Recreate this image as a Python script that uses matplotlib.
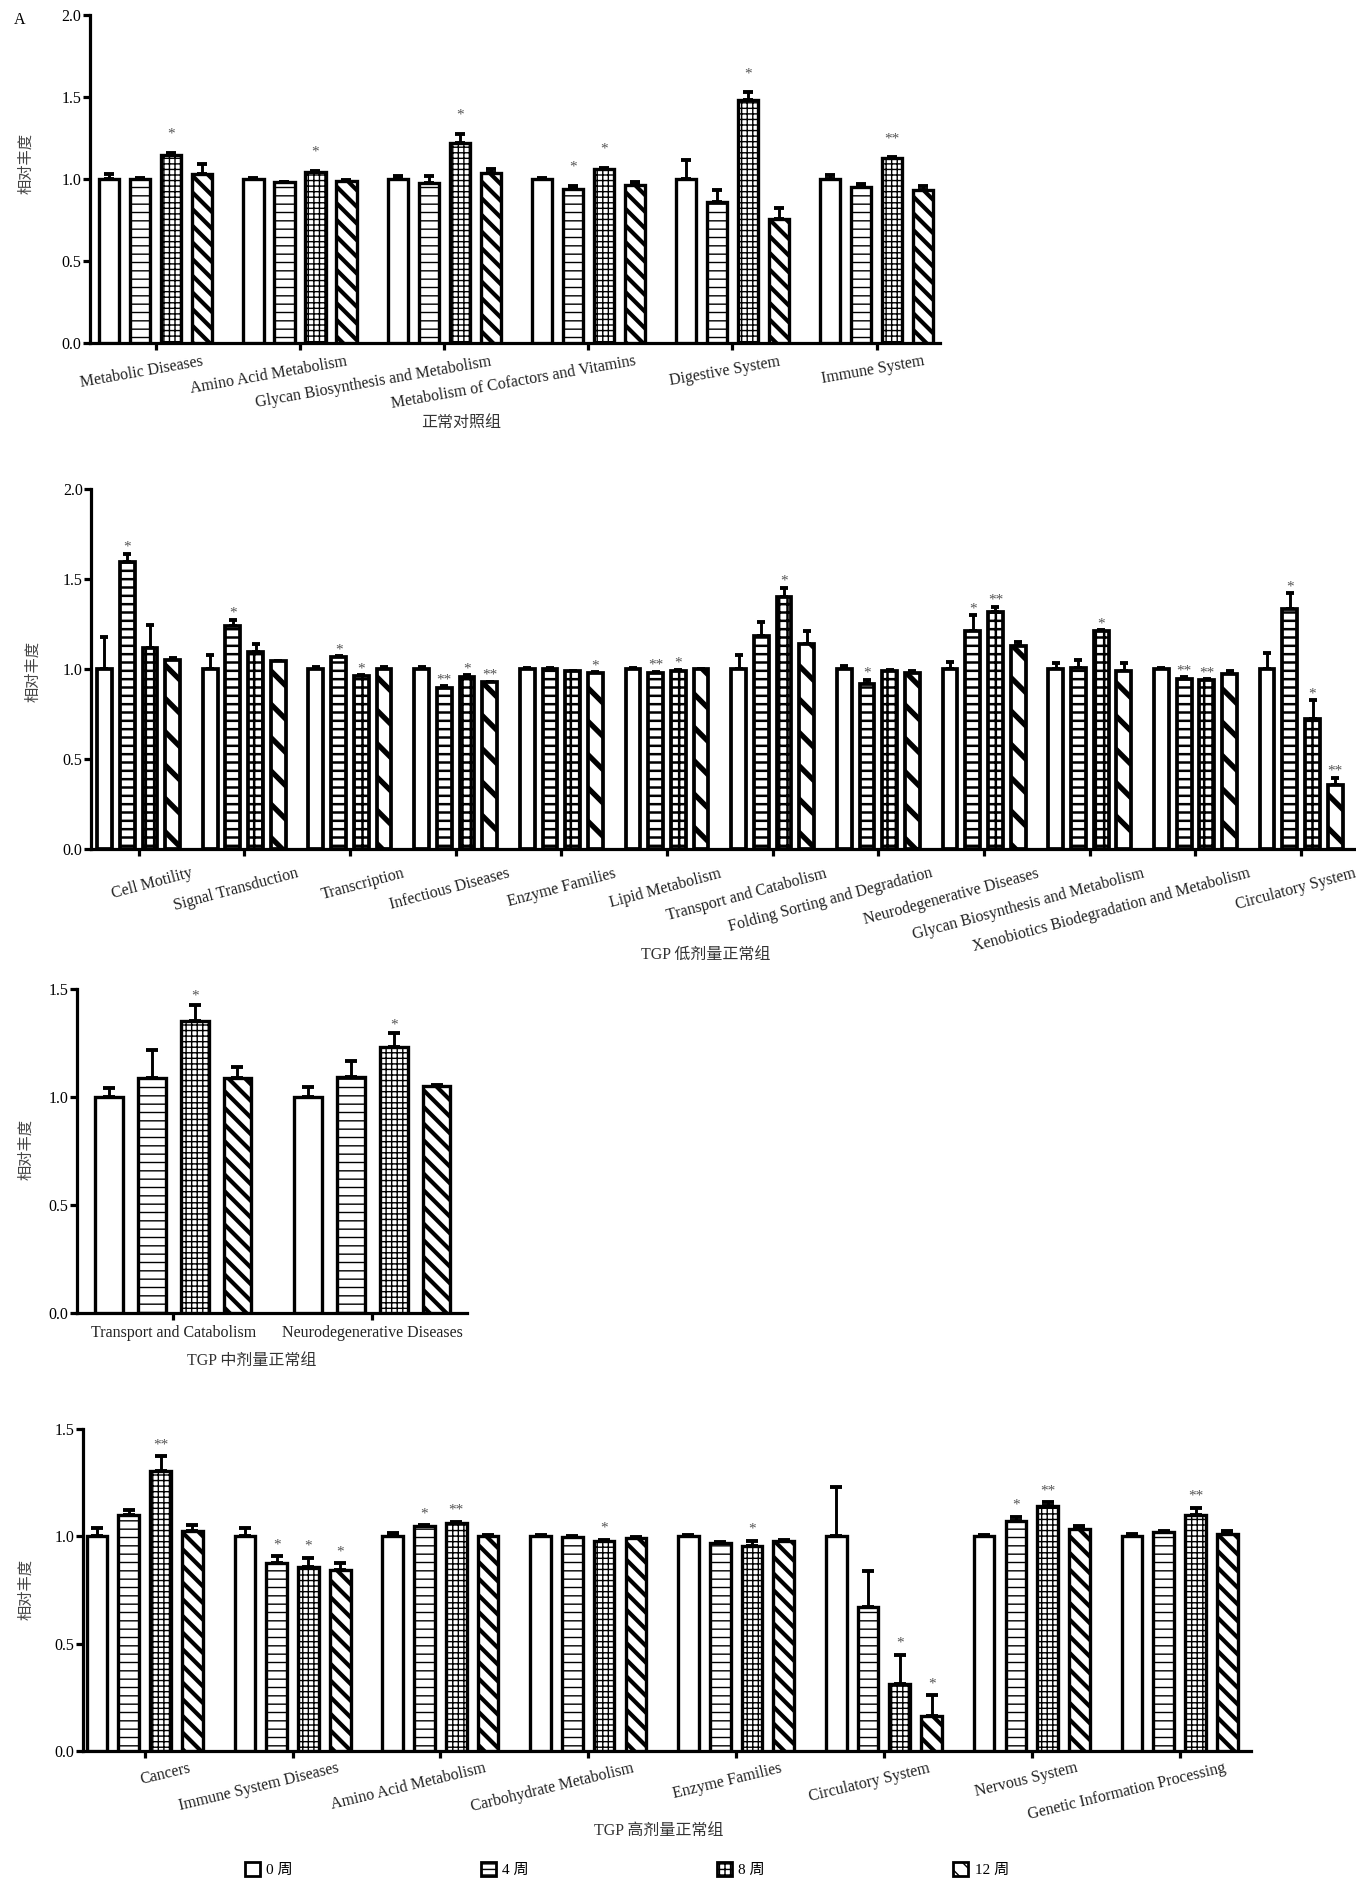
import numpy as np
import matplotlib
matplotlib.use('Agg')
import matplotlib.pyplot as plt
import matplotlib.patches as mpatches
from matplotlib.transforms import ScaledTranslation
from matplotlib.ticker import FormatStrFormatter

plt.rcParams['font.family'] = ['Liberation Serif', 'Noto Sans CJK SC', 'DejaVu Sans']

W, H = 1356, 1879
WEEKS = ['0 周', '4 周', '8 周', '12 周']

# ---- 正常对照组 ----
p1_cats = ['Metabolic Diseases', 'Amino Acid Metabolism', 'Glycan Biosynthesis and Metabolism',
           'Metabolism of Cofactors and Vitamins', 'Digestive System', 'Immune System']
p1_mean = [[1.00, 1.00, 1.15, 1.03],
           [1.00, 0.98, 1.045, 0.988],
           [1.00, 0.975, 1.223, 1.037],
           [1.00, 0.943, 1.06, 0.965],
           [1.00, 0.86, 1.48, 0.76],
           [1.00, 0.953, 1.128, 0.933]]
p1_err = [[0.03, 0.005, 0.012, 0.06],
          [0.008, 0.005, 0.006, 0.007],
          [0.018, 0.045, 0.055, 0.026],
          [0.006, 0.017, 0.008, 0.019],
          [0.114, 0.073, 0.05, 0.066],
          [0.028, 0.017, 0.004, 0.024]]
p1_sig = [['', '', '*', ''],
          ['', '', '*', ''],
          ['', '', '*', ''],
          ['', '*', '*', ''],
          ['', '', '*', ''],
          ['', '', '**', '']]

# ---- TGP 低剂量正常组 ----
p2_cats = ['Cell Motility', 'Signal Transduction', 'Transcription', 'Infectious Diseases',
           'Enzyme Families', 'Lipid Metabolism', 'Transport and Catabolism',
           'Folding Sorting and Degradation', 'Neurodegenerative Diseases',
           'Glycan Biosynthesis and Metabolism', 'Xenobiotics Biodegradation and Metabolism',
           'Circulatory System']
p2_mean = [[1.00, 1.596, 1.12, 1.052],
           [1.00, 1.24, 1.096, 1.043],
           [1.00, 1.065, 0.96, 1.00],
           [1.00, 0.896, 0.955, 0.926],
           [1.00, 1.00, 0.99, 0.98],
           [1.00, 0.978, 0.99, 1.00],
           [1.00, 1.185, 1.40, 1.14],
           [1.00, 0.92, 0.99, 0.978],
           [1.00, 1.213, 1.315, 1.13],
           [1.00, 1.005, 1.21, 0.99],
           [1.00, 0.944, 0.94, 0.974],
           [1.00, 1.333, 0.726, 0.356]]
p2_err = [[0.18, 0.044, 0.126, 0.01],
          [0.08, 0.034, 0.044, 0.004],
          [0.01, 0.006, 0.006, 0.01],
          [0.01, 0.008, 0.01, 0.004],
          [0.005, 0.004, 0.002, 0.003],
          [0.004, 0.007, 0.005, 0.002],
          [0.078, 0.075, 0.05, 0.07],
          [0.02, 0.02, 0.008, 0.009],
          [0.04, 0.085, 0.03, 0.02],
          [0.035, 0.045, 0.005, 0.045],
          [0.004, 0.01, 0.004, 0.013],
          [0.09, 0.088, 0.1, 0.04]]
p2_sig = [['', '*', '', ''],
          ['', '*', '', ''],
          ['', '*', '*', ''],
          ['', '**', '*', '**'],
          ['', '', '', '*'],
          ['', '**', '*', ''],
          ['', '', '*', ''],
          ['', '*', '', ''],
          ['', '*', '**', ''],
          ['', '', '*', ''],
          ['', '**', '**', ''],
          ['', '*', '*', '**']]

# ---- TGP 中剂量正常组 ----
p3_cats = ['Transport and Catabolism', 'Neurodegenerative Diseases']
p3_mean = [[1.00, 1.09, 1.35, 1.09],
           [1.00, 1.095, 1.23, 1.052]]
p3_err = [[0.04, 0.13, 0.076, 0.05],
          [0.045, 0.073, 0.066, 0.002]]
p3_sig = [['', '', '*', ''],
          ['', '', '*', '']]

# ---- TGP 高剂量正常组 ----
p4_cats = ['Cancers', 'Immune System Diseases', 'Amino Acid Metabolism', 'Carbohydrate Metabolism',
           'Enzyme Families', 'Circulatory System', 'Nervous System',
           'Genetic Information Processing']
p4_mean = [[1.00, 1.10, 1.305, 1.023],
           [1.00, 0.876, 0.857, 0.843],
           [1.00, 1.046, 1.063, 1.00],
           [1.00, 0.997, 0.977, 0.992],
           [1.00, 0.969, 0.953, 0.978],
           [1.00, 0.671, 0.31, 0.163],
           [1.00, 1.07, 1.14, 1.034],
           [1.00, 1.017, 1.10, 1.01]]
p4_err = [[0.04, 0.02, 0.067, 0.027],
          [0.037, 0.03, 0.042, 0.031],
          [0.013, 0.005, 0.004, 0.003],
          [0.005, 0.002, 0.006, 0.002],
          [0.004, 0.003, 0.025, 0.003],
          [0.228, 0.169, 0.137, 0.096],
          [0.006, 0.02, 0.018, 0.011],
          [0.008, 0.006, 0.033, 0.012]]
p4_sig = [['', '', '**', ''],
          ['', '*', '*', '*'],
          ['', '*', '**', ''],
          ['', '', '*', ''],
          ['', '', '*', ''],
          ['', '', '*', '*'],
          ['', '*', '**', ''],
          ['', '', '**', '']]

PITCH = 0.215
BAR_W = 0.14
FINE_HATCH = ['', '--', '+++', '\\\\']
COARSE_HATCH = ['', '--', '++', '\\']
FINE_LW = [1.0, 1.0, 1.0, 3.0]
COARSE_LW = [1.8, 1.8, 1.8, 3.8]


def px(v):
    # pixels -> inches at dpi 100
    return v / 100.0


def frame(left, top, right, bottom):
    return [left / W, 1 - bottom / H, (right - left) / W, (bottom - top) / H]


def draw_panel(ax, cats, mean, err, sig, ytop, xlim, hatches, hatch_lw,
               rot, lab_dx, lab_dy, star_dy, cap, edge_lw=2.4):
    mean = np.asarray(mean)
    err = np.asarray(err)
    n = len(cats)
    x = np.arange(n)
    for k in range(4):
        xs = x + (k - 1.5) * PITCH
        with plt.rc_context({'hatch.linewidth': hatch_lw[k]}):
            bars = ax.bar(xs, mean[:, k], BAR_W, color='white', edgecolor='black',
                          linewidth=edge_lw, hatch=hatches[k], zorder=3)
        for b in bars:
            if hasattr(b, 'set_hatch_linewidth'):
                b.set_hatch_linewidth(hatch_lw[k])
        ax.errorbar(xs, mean[:, k], yerr=[np.zeros(n), err[:, k]], fmt='none',
                    ecolor='black', elinewidth=2.1, capsize=cap, capthick=2.8, zorder=2)
        for i in range(n):
            if sig[i][k]:
                ax.annotate(sig[i][k], (xs[i], mean[i, k] + err[i, k]),
                            xytext=(0, star_dy), textcoords='offset points',
                            ha='center', va='baseline', fontsize=11, color='#555555')

    ax.set_xlim(*xlim)
    ax.set_ylim(0, ytop)
    ax.set_yticks(np.arange(0, ytop + 0.01, 0.5))
    ax.yaxis.set_major_formatter(FormatStrFormatter('%.1f'))
    ax.set_xticks(x)
    ax.set_xticklabels([])
    for s in ['top', 'right']:
        ax.spines[s].set_visible(False)
    for s in ['left', 'bottom']:
        ax.spines[s].set_linewidth(2.3)
    ax.tick_params(axis='both', direction='out', width=2.3, length=5, labelsize=11.5, pad=1)

    trans = ax.get_xaxis_transform() + ScaledTranslation(px(lab_dx), -px(lab_dy),
                                                         ax.figure.dpi_scale_trans)
    for i, c in enumerate(cats):
        if rot:
            ax.text(i, 0, c, transform=trans, rotation=rot, rotation_mode='anchor',
                    ha='right', va='top', fontsize=11.5, color='#222222')
        else:
            ax.text(i, 0, c, transform=trans, ha='center', va='top',
                    fontsize=11.5, color='#222222')


fig = plt.figure(figsize=(W / 100, H / 100), dpi=100)

ax1 = fig.add_axes(frame(89.5, 15, 940, 343.3))
draw_panel(ax1, p1_cats, p1_mean, p1_err, p1_sig, 2.0, (-0.46, 5.44),
           FINE_HATCH, FINE_LW, 10, 46, 10, 10.8, 3.5)

ax2 = fig.add_axes(frame(91, 489, 1354, 849.3))
draw_panel(ax2, p2_cats, p2_mean, p2_err, p2_sig, 2.0, (-0.45, 11.5),
           COARSE_HATCH, COARSE_LW, 15, 52, 16, 2.2, 2.6, edge_lw=2.7)

ax3 = fig.add_axes(frame(76.7, 989, 466.7, 1313.3))
draw_panel(ax3, p3_cats, p3_mean, p3_err, p3_sig, 1.5, (-0.485, 1.474),
           FINE_HATCH, FINE_LW, 0, 0, 12, 3.6, 4.0)

ax4 = fig.add_axes(frame(82.6, 1428.7, 1250.6, 1751))
draw_panel(ax4, p4_cats, p4_mean, p4_err, p4_sig, 1.5, (-0.42, 7.48),
           FINE_HATCH, FINE_LW, 13.5, 44, 9, 5.8, 4.0)

# axis titles and group captions
for yc, xc in [(164, 26), (672, 33), (1150, 26), (1590, 26)]:
    fig.text(xc / W, 1 - yc / H, '相对丰度', rotation=90, ha='center', va='center',
             fontsize=11, color='#444444')
for txt, xc, yc in [('正常对照组', 461, 423), ('TGP 低剂量正常组', 706, 955),
                    ('TGP 中剂量正常组', 252, 1361), ('TGP 高剂量正常组', 659, 1831)]:
    fig.text(xc / W, 1 - yc / H, txt, ha='center', va='center', fontsize=11.5, color='#333333')
fig.text(14 / W, 1 - 20 / H, 'A', ha='left', va='center', fontsize=11.5)

# legend
handles = []
for h in ['', '---', '+++', '\\\\']:
    lw = 2.4 if h.startswith('\\') else 1.0
    with plt.rc_context({'hatch.linewidth': lw}):
        p = mpatches.Patch(facecolor='white', edgecolor='black', hatch=h, linewidth=2.0)
    handles.append(p)
fig.legend(handles, WEEKS, loc='center left', bbox_to_anchor=(245 / W, 1 - 1869.5 / H),
           ncol=4, frameon=False, handlelength=1.0, handleheight=1.0, handletextpad=0.4,
           columnspacing=12.3, borderpad=0, borderaxespad=0, fontsize=11)

fig.savefig('out.png', dpi=100)
